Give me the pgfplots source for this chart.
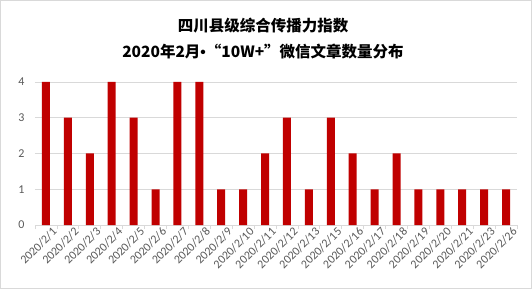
\documentclass[border=0pt]{standalone}
\usepackage{pgfplots}
\pgfplotsset{compat=1.18}
\usepackage{fontspec}
\setmainfont{Carlito}
\newfontfamily\cjk{Noto Sans CJK SC}
\newfontfamily\lat{Liberation Sans}
\definecolor{barred}{HTML}{C00000}
\definecolor{ticktxt}{HTML}{595959}
\definecolor{gridc}{HTML}{D9D9D9}
\begin{document}
\begin{tikzpicture}
\path[use as bounding box] (0pt,0pt) rectangle (532pt,289pt);
\draw[gridc, line width=0.8pt] (0.5pt,0.5pt) rectangle (531.5pt,288.5pt);
\node[font=\cjk\bfseries\fontsize{15.5}{17}\selectfont] at (263pt,263pt) {四川县级综合传播力指数};
\node[font=\cjk\bfseries\fontsize{15.5}{17}\selectfont] at (263pt,237pt) {2020年2月{\lat\bfseries•}“10W+”微信文章数量分布};
\begin{axis}[
  at={(35pt,64pt)}, anchor=south west,
  scale only axis, width=482pt, height=143pt,
  xmin=-0.5, xmax=21.5, ymin=0, ymax=4,
  ytick={0,1,2,3,4},
  xtick={0,...,21},
  xticklabels={2020/2/1,2020/2/2,2020/2/3,2020/2/4,2020/2/5,2020/2/6,2020/2/7,2020/2/8,2020/2/9,2020/2/10,2020/2/11,2020/2/12,2020/2/13,2020/2/15,2020/2/16,2020/2/17,2020/2/18,2020/2/19,2020/2/20,2020/2/21,2020/2/23,2020/2/26},
  minor xtick={-0.5,0.5,...,21.5},
  x tick label style={rotate=45, anchor=north east, font=\fontsize{12}{14}\selectfont, text=ticktxt, inner sep=1pt, xshift=4pt, yshift=-4pt},
  y tick label style={font=\fontsize{12}{14}\selectfont, text=ticktxt},
  /pgf/number format/assume math mode=true,
  major tick length=0pt,
  minor tick length=4pt,
  xtick style={draw=none},
  minor x tick style={draw=gridc, line width=0.8pt},
  tick align=outside,
  axis x line*=bottom,
  axis y line*=left,
  y axis line style={draw=none},
  x axis line style={draw=gridc, line width=0.8pt, -},
  ytick style={draw=none},
  ymajorgrids,
  grid style={gridc, line width=0.8pt},
  ybar, bar width=8pt,
  yticklabel style={xshift=-7pt},
]
\addplot[fill=barred, draw=none] coordinates {
(0,4) (1,3) (2,2) (3,4) (4,3) (5,1) (6,4) (7,4) (8,1) (9,1) (10,2)
(11,3) (12,1) (13,3) (14,2) (15,1) (16,2) (17,1) (18,1) (19,1) (20,1) (21,1)};
\end{axis}
\end{tikzpicture}
\end{document}
